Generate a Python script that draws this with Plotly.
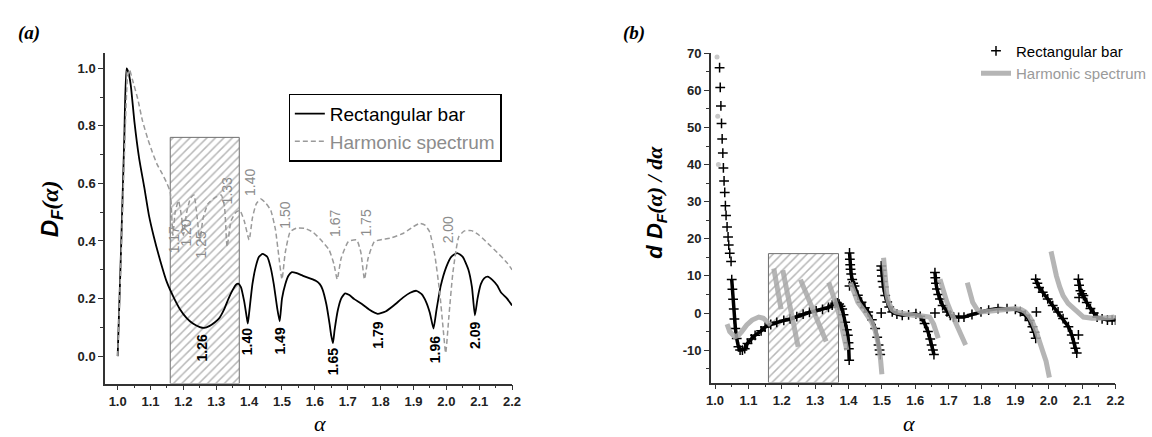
import plotly.graph_objects as go

# ---------------- data: panel (a) ----------------
rect_x = [1.000, 1.010, 1.020, 1.027, 1.033, 1.040, 1.051, 1.065, 1.081, 1.095, 1.110, 1.130, 1.150, 1.170,
          1.189, 1.210, 1.229, 1.250, 1.263, 1.280, 1.295, 1.308, 1.325, 1.337, 1.350, 1.360, 1.367, 1.375,
          1.385, 1.392, 1.396, 1.400, 1.410, 1.420, 1.430, 1.441, 1.455, 1.465, 1.475, 1.485, 1.493, 1.500,
          1.510, 1.520, 1.530, 1.545, 1.564, 1.585, 1.604, 1.615, 1.623, 1.635, 1.645, 1.650, 1.655, 1.660,
          1.670, 1.680, 1.692, 1.705, 1.720, 1.742, 1.765, 1.791, 1.815, 1.840, 1.870, 1.890, 1.909, 1.925,
          1.939, 1.950, 1.961, 1.970, 1.983, 2.000, 2.015, 2.033, 2.050, 2.067, 2.078, 2.087, 2.095, 2.105,
          2.115, 2.126, 2.140, 2.155, 2.166, 2.185, 2.200]
rect_y = [0.000, 0.360, 0.750, 1.000, 0.985, 0.940, 0.814, 0.690, 0.586, 0.490, 0.415, 0.330, 0.256, 0.205,
          0.164, 0.132, 0.113, 0.101, 0.098, 0.105, 0.117, 0.130, 0.165, 0.199, 0.230, 0.248, 0.252, 0.240,
          0.190, 0.140, 0.113, 0.150, 0.250, 0.310, 0.345, 0.355, 0.345, 0.310, 0.250, 0.170, 0.121, 0.200,
          0.250, 0.280, 0.292, 0.288, 0.279, 0.270, 0.261, 0.250, 0.233, 0.180, 0.110, 0.070, 0.045, 0.090,
          0.160, 0.200, 0.218, 0.212, 0.198, 0.182, 0.162, 0.147, 0.155, 0.176, 0.205, 0.220, 0.227, 0.215,
          0.187, 0.150, 0.096, 0.160, 0.244, 0.310, 0.345, 0.358, 0.345, 0.301, 0.240, 0.142, 0.200, 0.250,
          0.270, 0.276, 0.265, 0.245, 0.222, 0.200, 0.176]

harm_x = [1.000, 1.010, 1.020, 1.030, 1.036, 1.045, 1.061, 1.075, 1.091, 1.105, 1.120, 1.135, 1.150, 1.160,
          1.168, 1.175, 1.185, 1.195, 1.200, 1.210, 1.222, 1.232, 1.242, 1.250, 1.260, 1.275, 1.295, 1.315,
          1.325, 1.333, 1.345, 1.360, 1.372, 1.385, 1.400, 1.410, 1.422, 1.436, 1.452, 1.466, 1.480, 1.490,
          1.500, 1.510, 1.525, 1.545, 1.569, 1.595, 1.618, 1.643, 1.658, 1.668, 1.680, 1.702, 1.727, 1.740,
          1.751, 1.762, 1.781, 1.805, 1.830, 1.870, 1.900, 1.919, 1.935, 1.949, 1.965, 1.980, 1.990, 1.998,
          2.008, 2.020, 2.038, 2.055, 2.077, 2.100, 2.126, 2.155, 2.185, 2.200]
harm_y = [0.000, 0.330, 0.680, 0.970, 0.995, 0.960, 0.894, 0.820, 0.757, 0.710, 0.666, 0.635, 0.600, 0.570,
          0.420, 0.500, 0.540, 0.480, 0.420, 0.500, 0.550, 0.560, 0.480, 0.400, 0.480, 0.530, 0.550, 0.560,
          0.520, 0.380, 0.470, 0.500, 0.506, 0.470, 0.404, 0.480, 0.530, 0.546, 0.530, 0.506, 0.440, 0.350,
          0.267, 0.360, 0.432, 0.445, 0.444, 0.430, 0.404, 0.370, 0.320, 0.267, 0.340, 0.398, 0.404, 0.360,
          0.267, 0.340, 0.398, 0.405, 0.410, 0.427, 0.450, 0.461, 0.455, 0.432, 0.350, 0.220, 0.100, 0.011,
          0.140, 0.290, 0.415, 0.435, 0.436, 0.420, 0.392, 0.360, 0.324, 0.300]

# labels of the minima
harm_lbl = ["1.17", "1.20", "1.25", "1.33", "1.40", "1.50", "1.67", "1.75", "2.00"]
harm_lbl_x = [1.170, 1.209, 1.253, 1.332, 1.401, 1.510, 1.663, 1.756, 2.006]
harm_lbl_y = [0.404, 0.427, 0.387, 0.575, 0.603, 0.489, 0.461, 0.461, 0.438]
rect_lbl = ["1.26", "1.40", "1.49", "1.65", "1.79", "1.96", "2.09"]
rect_lbl_x = [1.258, 1.396, 1.493, 1.655, 1.791, 1.964, 2.087]
rect_lbl_y = [0.028, 0.051, 0.053, -0.018, 0.073, 0.022, 0.073]

# hatched region
region_x = [1.160, 1.370]
region_top_a = 0.76
region_top_b = 16.0

# ---------------- data: panel (b) ----------------
drect_steep_x = [1.0136, 1.0155, 1.0175, 1.0194, 1.0213, 1.0233, 1.0250, 1.0270, 1.0290, 1.0310, 1.0330,
                 1.0360, 1.0390, 1.0410, 1.0440, 1.0480]
drect_steep_y = [66.1, 60.8, 55.8, 51.1, 46.9, 43.1, 39.1, 35.6, 32.5, 28.9, 26.3, 23.2, 20.5, 18.3, 16.1, 13.9]

drect_x = [1.050, 1.052, 1.054, 1.056, 1.058, 1.061, 1.065, 1.070, 1.075, 1.082, 1.089, 1.097, 1.109, 1.120,
           1.138, 1.150, 1.167, 1.185, 1.206, 1.225, 1.245, 1.264, 1.283, 1.303, 1.322, 1.340, 1.351, 1.360,
           1.366, 1.372, 1.376, 1.381, 1.385, 1.390, 1.395, 1.398, 1.400, 1.401, 1.402, None,
           1.403, 1.404, 1.405, 1.406, 1.408, 1.411, 1.414, 1.418, 1.428, 1.439, 1.449, 1.459, 1.470, 1.480,
           1.486, 1.490, 1.493, 1.495, None,
           1.498, 1.499, 1.500, 1.502, 1.505, 1.510, 1.516, 1.522, 1.531, 1.545, 1.561, 1.580, 1.602, 1.615,
           1.628, 1.638, 1.645, 1.649, 1.653, 1.656, None,
           1.659, 1.660, 1.662, 1.665, 1.669, 1.674, 1.682, 1.695, 1.705, 1.715, 1.730, 1.746, 1.770, 1.797,
           1.820, 1.848, 1.875, 1.900, 1.915, 1.930, 1.942, 1.951, 1.957, 1.961, None,
           1.961, 1.966, 1.971, 1.982, 1.997, 2.012, 2.028, 2.043, 2.059, 2.069, 2.076, 2.080, 2.084, None,
           2.089, 2.091, 2.095, 2.100, 2.104, 2.114, 2.125, 2.135, 2.145, 2.160, 2.176, 2.190, 2.200]
drect_y = [9.0, 6.4, 3.7, 1.1, -1.6, -4.2, -6.9, -9.1, -10.0, -10.0, -9.6, -8.2, -7.0, -6.0, -4.8,
           -3.8, -3.1, -2.5, -2.0, -1.6, -1.0, -0.3, 0.2, 0.6, 1.0, 1.5, 2.1, 2.6, 2.7,
           2.4, 1.8, 1.1, -0.5, -2.5, -4.5, -6.0, -8.0, -9.6, -12.7, None,
           16.2, 14.5, 13.0, 11.8, 10.5, 9.0, 8.0, 7.3, 4.8, 2.9, 1.4, 0.3, -1.8, -4.2,
           -6.5, -8.6, -10.0, -11.2, None,
           12.7, 11.5, 10.0, 8.5, 7.0, 4.7, 3.0, 1.6, 0.3, -0.3, -0.6, -0.5, -0.2, -0.9,
           -2.8, -5.0, -7.0, -8.6, -10.0, -11.2, None,
           10.9, 9.5, 8.0, 6.5, 5.0, 3.8, 2.0, 0.3, -0.6, -1.1, -1.2, -1.1, -0.4, 0.3,
           0.8, 1.2, 1.2, 1.0, 0.4, -0.6, -2.0, -3.7, -5.2, -6.8, None,
           9.1, 8.0, 6.9, 5.6, 3.8, 2.0, 0.3, -1.5, -3.7, -5.9, -8.1, -9.5, -10.8, None,
           9.1, 7.5, 6.0, 5.2, 4.7, 2.8, 1.2, 0.0, -1.1, -1.6, -1.9, -1.9, -1.9]

drect_iso_x = [1.403, 1.498, 1.659, 1.963, 2.091, 2.089]
drect_iso_y = [7.3, 0.0, 0.0, 0.3, 4.2, -5.9]

dharm_top_x = [1.006, 1.008, 1.010]
dharm_top_y = [69.0, 53.0, 40.0]

dharm_x = [1.036, 1.044, 1.059, 1.070, 1.080, 1.095, 1.111, 1.131, 1.145,
           1.152, 1.160, 1.167, None,
           1.176, 1.185, 1.193, 1.198, None,
           1.203, 1.215, 1.227, 1.238, 1.249, None,
           1.256, 1.275, 1.295, 1.315, 1.333, None,
           1.341, 1.352, 1.362, 1.372, 1.380, 1.388, 1.395, None,
           1.406, 1.417, 1.428, 1.449, 1.469, 1.480, 1.490, 1.496, 1.500, None,
           1.505, 1.510, 1.515, 1.520, 1.530, 1.541, 1.565, 1.592, 1.620, 1.643, 1.655, 1.663, 1.669, None,
           1.674, 1.684, 1.695, 1.708, 1.720, 1.735, 1.751, None,
           1.756, 1.764, 1.772, 1.785, 1.797, 1.820, 1.848, 1.875, 1.900, 1.918, 1.930, 1.942, 1.951, 1.962,
           1.971, 1.982, 1.992, 2.002, None,
           2.007, 2.015, 2.023, 2.033, 2.043, 2.058, 2.074, 2.090, 2.104, 2.130, 2.156, 2.180, 2.197]
dharm_y = [-3.0, -5.0, -6.4, -6.0, -5.0, -3.2, -1.9, -1.1, -1.4,
           -1.9, -2.6, -3.3, None,
           12.0, 7.5, 3.5, 1.0, None,
           11.5, 6.0, 0.5, -4.5, -9.1, None,
           9.0, 5.0, 0.5, -3.5, -7.7, None,
           8.2, 5.5, 2.5, -0.5, -3.5, -7.0, -10.0, None,
           8.2, 5.0, 2.9, 0.3, -2.4, -4.8, -8.6, -12.5, -16.5, None,
           14.9, 9.0, 5.0, 2.9, 1.0, 0.3, -0.2, -0.6, -0.8, -1.1, -3.0, -5.0, -6.8, None,
           9.1, 5.5, 2.9, 0.0, -2.4, -5.2, -8.6, None,
           8.2, 5.0, 2.9, 1.0, 0.3, 0.5, 0.7, 1.0, 1.2, 0.9, 0.3, -1.0, -2.4, -4.8,
           -7.7, -10.3, -13.0, -17.4, None,
           16.6, 13.0, 10.0, 7.0, 4.7, 2.6, 1.2, 0.0, -1.1, -1.4, -1.5, -1.3, -1.1]

# ticks
xticks = [1.0, 1.1, 1.2, 1.3, 1.4, 1.5, 1.6, 1.7, 1.8, 1.9, 2.0, 2.1, 2.2]
yticks_a = [0.0, 0.2, 0.4, 0.6, 0.8, 1.0]
yticks_b = [-10, 0, 10, 20, 30, 40, 50, 60, 70]

W, H = 1152, 437
SANS = "Liberation Sans, Arial, sans-serif"
SERIF = "Liberation Serif, Times New Roman, serif"
GRAY = "#9a9a9a"
HATCH = "#6f6f6f"

fig = go.Figure()

# hatched regions (bars with pattern)
for xa, ya, top, bottom in [("x", "y", region_top_a, -0.0954), ("x2", "y2", region_top_b, -18.75)]:
    fig.add_trace(go.Bar(
        x=[(region_x[0] + region_x[1]) / 2], y=[top - bottom], base=[bottom],
        width=[region_x[1] - region_x[0]], xaxis=xa, yaxis=ya, showlegend=False,
        marker=dict(color="white", line=dict(color=HATCH, width=1),
                    pattern=dict(shape="/", fgcolor=HATCH, bgcolor="white", size=6, solidity=0.25)),
        hoverinfo="skip"))

# panel (a) curves
fig.add_trace(go.Scatter(x=rect_x, y=rect_y, mode="lines", name="Rectangular bar",
                         line=dict(color="black", width=1.8, shape="spline", smoothing=0.5),
                         xaxis="x", yaxis="y", legend="legend"))
fig.add_trace(go.Scatter(x=harm_x, y=harm_y, mode="lines",
                         name="<span style='color:#8c8c8c'>Harmonic spectrum</span>",
                         line=dict(color=GRAY, width=1.5, dash="5px,3px", shape="spline", smoothing=0.5),
                         xaxis="x", yaxis="y", legend="legend"))

# panel (b)
fig.add_trace(go.Scatter(x=drect_x, y=drect_y, mode="lines+markers", showlegend=False,
                         line=dict(color="black", width=3.5),
                         marker=dict(symbol="cross-thin", size=7, line=dict(color="black", width=1.5)),
                         xaxis="x2", yaxis="y2"))
fig.add_trace(go.Scatter(x=drect_steep_x + drect_iso_x, y=drect_steep_y + drect_iso_y, mode="markers",
                         name="Rectangular bar",
                         marker=dict(symbol="cross-thin", size=7, line=dict(color="black", width=1.5)),
                         xaxis="x2", yaxis="y2", legend="legend2"))
fig.add_trace(go.Scatter(x=dharm_top_x, y=dharm_top_y, mode="markers", showlegend=False,
                         marker=dict(symbol="circle", size=5, color="#c8c8c8"),
                         xaxis="x2", yaxis="y2"))
fig.add_trace(go.Scatter(x=dharm_x, y=dharm_y, mode="lines",
                         name="<span style='color:#9a9a9a'>Harmonic spectrum</span>",
                         line=dict(color="#a8a8a8", width=5), opacity=0.85,
                         xaxis="x2", yaxis="y2", legend="legend2"))

tickfont = dict(family=SANS, size=13, color="#222", weight="bold")
axis_common = dict(showgrid=False, zeroline=False, showline=True, linecolor="#333", linewidth=1.5,
                   ticks="outside", ticklen=5, tickwidth=1.3, tickcolor="#333", tickfont=tickfont)

fig.update_layout(
    width=W, height=H, margin=dict(l=0, r=0, t=0, b=0),
    paper_bgcolor="white", plot_bgcolor="white", barmode="overlay",
    xaxis=dict(domain=[103 / W, 522 / W], range=[0.9616, 2.2], anchor="y",
               tickvals=xticks, ticktext=[f"{v:.1f}" for v in xticks],
               minor=dict(dtick=0.05, tick0=1.0, ticks="outside", ticklen=3, tickcolor="#333"),
               **axis_common),
    yaxis=dict(domain=[1 - 382.7 / H, 1 - 46.7 / H], range=[-0.0954, 1.0533], anchor="x",
               tickvals=yticks_a, ticktext=[f"{v:.1f}" for v in yticks_a],
               minor=dict(dtick=0.1, tick0=0.0, ticks="outside", ticklen=3, tickcolor="#333"),
               **axis_common),
    xaxis2=dict(domain=[726.7 / W, 1143.2 / W], range=[0.9875, 2.2], anchor="y2",
                tickvals=xticks, ticktext=[f"{v:.1f}" for v in xticks],
                minor=dict(dtick=0.05, tick0=1.0, ticks="outside", ticklen=3, tickcolor="#333"),
                **axis_common),
    yaxis2=dict(domain=[1 - 381.7 / H, 1 - 47 / H], range=[-18.75, 70], anchor="x2",
                tickvals=yticks_b, ticktext=[str(v) for v in yticks_b],
                minor=dict(dtick=5, tick0=0, ticks="outside", ticklen=3, tickcolor="#333"),
                **axis_common),
    legend=dict(x=292 / W, y=1 - 88 / H, xanchor="left", yanchor="top",
                bordercolor="black", borderwidth=1.2, bgcolor="white",
                font=dict(family=SANS, size=19, color="black"), tracegroupgap=0),
    legend2=dict(x=1000 / W, y=1 - 28 / H, xanchor="left", yanchor="top",
                 bgcolor="rgba(255,255,255,0)", borderwidth=0,
                 font=dict(family=SANS, size=15, color="black")),
)

ann = []
for t, x, y in zip(harm_lbl, harm_lbl_x, harm_lbl_y):
    ann.append(dict(text=t, x=x, y=y, xref="x", yref="y", showarrow=False, textangle=-90,
                    xanchor="center", yanchor="middle",
                    font=dict(family=SANS, size=14, color="#8c8c8c")))
for t, x, y in zip(rect_lbl, rect_lbl_x, rect_lbl_y):
    ann.append(dict(text=f"<b>{t}</b>", x=x, y=y, xref="x", yref="y", showarrow=False, textangle=-90,
                    xanchor="center", yanchor="middle",
                    font=dict(family=SANS, size=14, color="black")))


def paper_text(text, px, py, size, family, angle=0):
    return dict(text=text, x=px / W, y=1 - py / H, xref="paper", yref="paper", showarrow=False,
                xanchor="center", yanchor="middle", textangle=angle,
                font=dict(family=family, size=size, color="black"))


ann += [
    paper_text("<b><i>(a)</i></b>", 25, 26, 19, SERIF),
    paper_text("<b><i>(b)</i></b>", 648, 26, 19, SERIF),
    paper_text("<b><i>D<sub>F</sub></i></b><span style='font-family:Liberation Serif'><b><i>(α)</i></b></span>",
               48, 205, 24, SANS, -90),
    paper_text("<b><i>d D<sub>F</sub></i></b><span style='font-family:Liberation Serif'><b><i>(α) / dα</i></b></span>",
               670, 198, 22, SANS, -90),
    paper_text("<i>α</i>", 324, 423, 22, SERIF),
    paper_text("<i>α</i>", 931, 423, 22, SERIF),
]
fig.update_layout(annotations=ann)

fig.write_html("out.html")
